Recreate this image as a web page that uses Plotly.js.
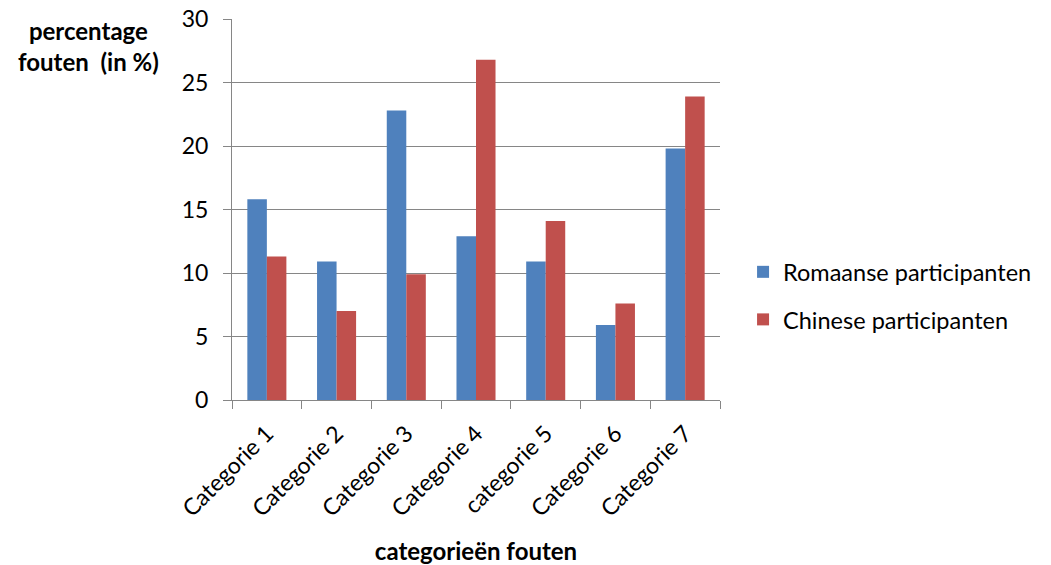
<!DOCTYPE html>
<html>
<head>
<meta charset="utf-8">
<script src="https://cdn.plot.ly/plotly-3.0.1.min.js"></script>
<style>html,body{margin:0;padding:0;background:#fff;}#chart{width:1051px;height:565px;}</style>
</head>
<body>
<div id="chart"></div>
<script>
const categories = ["Categorie 1", "Categorie 2", "Categorie 3", "Categorie 4", "categorie 5", "Categorie 6", "Categorie 7"];
const romaanse = [15.8, 10.9, 22.8, 12.9, 10.9, 5.9, 19.8];
const chinese = [11.3, 7.0, 9.9, 26.8, 14.1, 7.6, 23.9];
const seriesNames = ["Romaanse participanten", "Chinese participanten"];
const yTicks = [0, 5, 10, 15, 20, 25, 30];

const FONT = "Lato, 'Open Sans', sans-serif";
const traces = [
  {type: "bar", x: categories, y: romaanse, name: seriesNames[0], legendgroup: "a",
   marker: {color: "#4F81BD"}, hoverinfo: "y"},
  {type: "bar", x: categories, y: chinese, name: seriesNames[1], legendgroup: "b",
   marker: {color: "#C0504D"}, hoverinfo: "y"}
];
const layout = {
  width: 1051, height: 565,
  margin: {l: 232, r: 331, t: 19, b: 165},
  paper_bgcolor: "#fff", plot_bgcolor: "#fff",
  font: {family: FONT, size: 23, color: "#000"},
  barmode: "group", bargap: 0.44, bargroupgap: 0,
  showlegend: true,
  legend: {xref: "container", yref: "container", x: 0.707, y: 0.476,
           xanchor: "left", yanchor: "middle",
           font: {family: FONT, size: 23.5}, tracegroupgap: 14, traceorder: "grouped",
           borderwidth: 0},
  xaxis: {
    type: "category", tickangle: -45, ticks: "outside", tickson: "boundaries",
    ticklen: 8, tickcolor: "#868686", showline: true, linecolor: "#868686", linewidth: 1,
    showgrid: false, tickfont: {family: FONT, size: 23}, ticklabelstandoff: 10,
    title: {text: "<b>categorieën fouten</b>", font: {family: FONT, size: 24}, standoff: 26}
  },
  yaxis: {
    range: [0, 30], tickvals: yTicks, ticktext: yTicks.map(String),
    ticks: "outside", ticklen: 8, tickcolor: "#868686",
    showline: true, linecolor: "#868686", linewidth: 1,
    showgrid: true, gridcolor: "#868686", gridwidth: 1, zeroline: false,
    tickfont: {family: FONT, size: 23}, ticklabelstandoff: 10
  },
  annotations: [
    {text: "<b>percentage<br>fouten  (in %)</b>", xref: "paper", yref: "paper",
     x: -0.295, y: 0.928, xanchor: "center", yanchor: "middle", showarrow: false,
     font: {family: FONT, size: 24}, align: "center"}
  ]
};
Plotly.newPlot("chart", traces, layout, {displayModeBar: false, staticPlot: true});
</script>
</body>
</html>
